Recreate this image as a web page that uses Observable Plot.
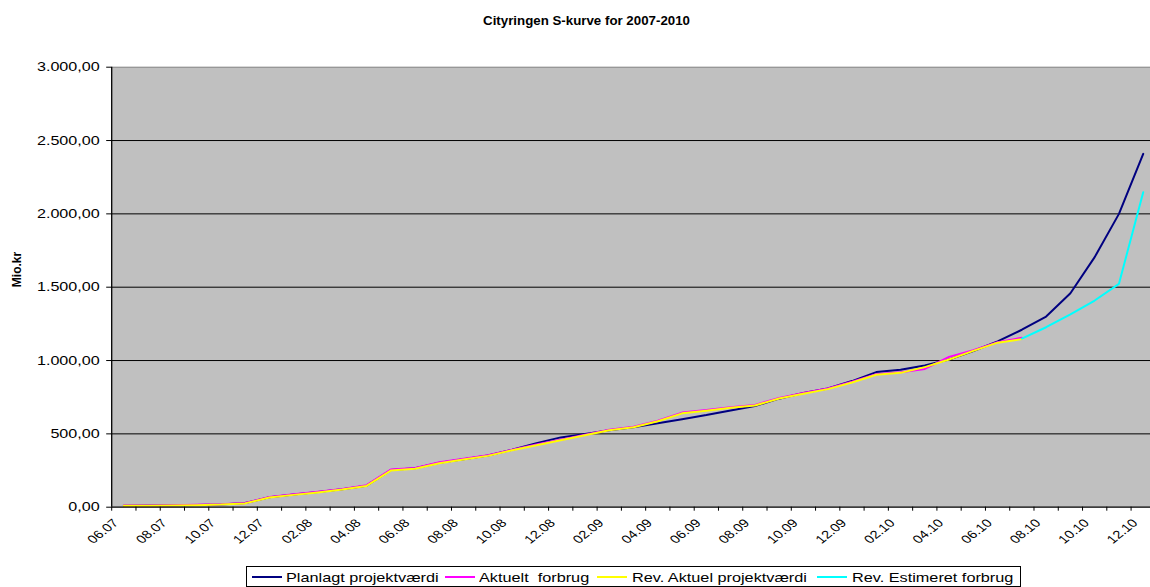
<!DOCTYPE html>
<html><head><meta charset="utf-8">
<script src="https://cdn.jsdelivr.net/npm/d3@7"></script>
<script src="https://cdn.jsdelivr.net/npm/@observablehq/plot@0.6"></script>
<style>
body{margin:0;background:#fff;font-family:"Liberation Sans",Arial,sans-serif;}
#wrap{position:relative;width:1150px;height:587px;overflow:hidden;}
#title{height:40px;box-sizing:border-box;padding-top:13.1px;padding-left:23px;text-align:center;font-weight:bold;font-size:13.3px;line-height:16px;color:#000;}
#chart svg{display:block;}
#legend{position:relative;height:27px;}
#lbox{position:absolute;left:245.5px;top:6px;width:775px;height:21px;border:1px solid #000;box-sizing:border-box;background:#fff;}
.sw{position:absolute;top:9.3px;width:30px;height:2px;}
.lt{position:absolute;top:2.7px;font-size:13px;line-height:15px;white-space:pre;transform:scaleX(1.25);transform-origin:left center;color:#000;}
</style></head>
<body><div id="wrap">
<div id="title">Cityringen S-kurve for 2007-2010</div>
<div id="chart"></div>
<div id="legend"><div id="lbox"></div></div>
</div>
<script>
const months = ["06.07","07.07","08.07","09.07","10.07","11.07","12.07",
 "01.08","02.08","03.08","04.08","05.08","06.08","07.08","08.08","09.08","10.08","11.08","12.08",
 "01.09","02.09","03.09","04.09","05.09","06.09","07.09","08.09","09.09","10.09","11.09","12.09",
 "01.10","02.10","03.10","04.10","05.10","06.10","07.10","08.10","09.10","10.10","11.10","12.10"];

const planlagt = [10,11,13,15,19,28,68,86,104,123,147,253,265,303,327,352,392,437,476,500,524,545,572,600,628,660,690,740,778,810,860,921,937,966,1007,1065,1130,1210,1300,1459,1705,2000,2409];
const aktuelt = [12,12,14,16,20,29,70,88,105,124,150,257,268,306,330,354,392,427,460,494,528,548,590,645,662,682,697,745,778,810,855,907,920,943,1025,1070,1125,1155];
const revAktuel = [10,10,12,14,18,26,66,84,101,120,145,250,262,300,325,350,388,423,456,490,525,545,586,640,658,678,693,741,773,805,850,903,916,955,1007,1066,1122,1146];
const revEstimeretStart = 37;
const revEstimeret = [1150,1227,1315,1409,1523,2148];

const seriesNames = ["Planlagt projektværdi","Aktuelt  forbrug","Rev. Aktuel projektværdi","Rev. Estimeret forbrug"];
const seriesColors = ["#000080","#ff00ff","#ffff00","#00ffff"];

const yTicks = [0,500,1000,1500,2000,2500,3000];
const yGrid = [500,1000,1500,2000,2500];

const loc = d3.formatLocale({decimal:",", thousands:".", grouping:[3], currency:["",""]});
const fmt = loc.format(",.2f");

const toPts = (arr, start=0) => arr.map((v,k)=>({i:start+k, v}));
const band = 24.27;
const tickBounds = d3.range(0, 43).map(i => i - 0.5);
const labelIdx = d3.range(0, 43, 2);

const chart = Plot.plot({
  width:1150, height:520,
  marginLeft:111.2, marginRight:0, marginTop:26.7, marginBottom:53.3,
  x:{type:"linear", domain:[-0.5, 42.3], axis:null},
  y:{domain:[0,3000], axis:null},
  style:{fontFamily:"'Liberation Sans', Arial, sans-serif", background:"#fff", color:"#000"},
  marks:[
    Plot.frame({fill:"#c0c0c0", stroke:null}),
    Plot.ruleY(yGrid, {stroke:"#000", strokeWidth:1}),
    Plot.ruleY([3000], {stroke:"#808080", strokeWidth:1}),
    Plot.line(toPts(planlagt), {x:"i", y:"v", stroke:seriesColors[0], strokeWidth:2}),
    Plot.line(toPts(aktuelt), {x:"i", y:"v", stroke:seriesColors[1], strokeWidth:2}),
    Plot.line(toPts(revAktuel), {x:"i", y:"v", stroke:seriesColors[2], strokeWidth:2}),
    Plot.line(toPts(revEstimeret, revEstimeretStart), {x:"i", y:"v", stroke:seriesColors[3], strokeWidth:2}),
    Plot.ruleX([-0.5], {y1:0, y2:3000, stroke:"#000", strokeWidth:1.3}),
    Plot.ruleY([0], {stroke:"#000", strokeWidth:1.3}),
    Plot.ruleY(yTicks, {x1:-0.5 - 5/band, x2:-0.5, stroke:"#000"}),
    Plot.ruleX(tickBounds, {y1:0, y2:-4/0.14667, stroke:"#000"}),
    Plot.text(yTicks, {x:-0.5, y:d=>d, text:d=>fmt(d), textAnchor:"end", dx:-12, fontSize:12.7, fill:"#000"}),
    Plot.text(labelIdx, {x:d=>d, y:0, text:d=>months[d], rotate:-45, textAnchor:"end", dx:-8, dy:14, fontSize:11.5, fill:"#000"}),
    Plot.text(["Mio.kr"], {frameAnchor:"left", dx:-94.2, rotate:-90, fontWeight:"bold", fontSize:12, fill:"#000"})
  ]
});
document.getElementById("chart").appendChild(chart);

// horizontal stretch of axis label text, as in the reference rendering
const yLabelSet = new Set(yTicks.map(fmt));
const xLabelSet = new Set(labelIdx.map(d=>months[d]));
chart.querySelectorAll("text").forEach(el=>{
  const s = el.textContent;
  if (yLabelSet.has(s) || xLabelSet.has(s)) {
    const t = el.getAttribute("transform") || "";
    if (t.includes("rotate")) el.setAttribute("transform", t.replace("rotate", "scale(1.27,1) rotate"));
    else el.setAttribute("transform", t + " scale(1.27,1)");
  }
});

// legend
const lbox = document.getElementById("lbox");
const swLeft = [5.2, 198.5, 350.2, 570.2];
const txLeft = [39.5, 232.8, 385.2, 605.2];
seriesNames.forEach((n,k)=>{
  const sw = document.createElement("div");
  sw.className = "sw"; sw.style.left = swLeft[k]+"px"; sw.style.background = seriesColors[k];
  lbox.appendChild(sw);
  const tx = document.createElement("div");
  tx.className = "lt"; tx.style.left = txLeft[k]+"px"; tx.textContent = n;
  lbox.appendChild(tx);
});
</script>
</body></html>
